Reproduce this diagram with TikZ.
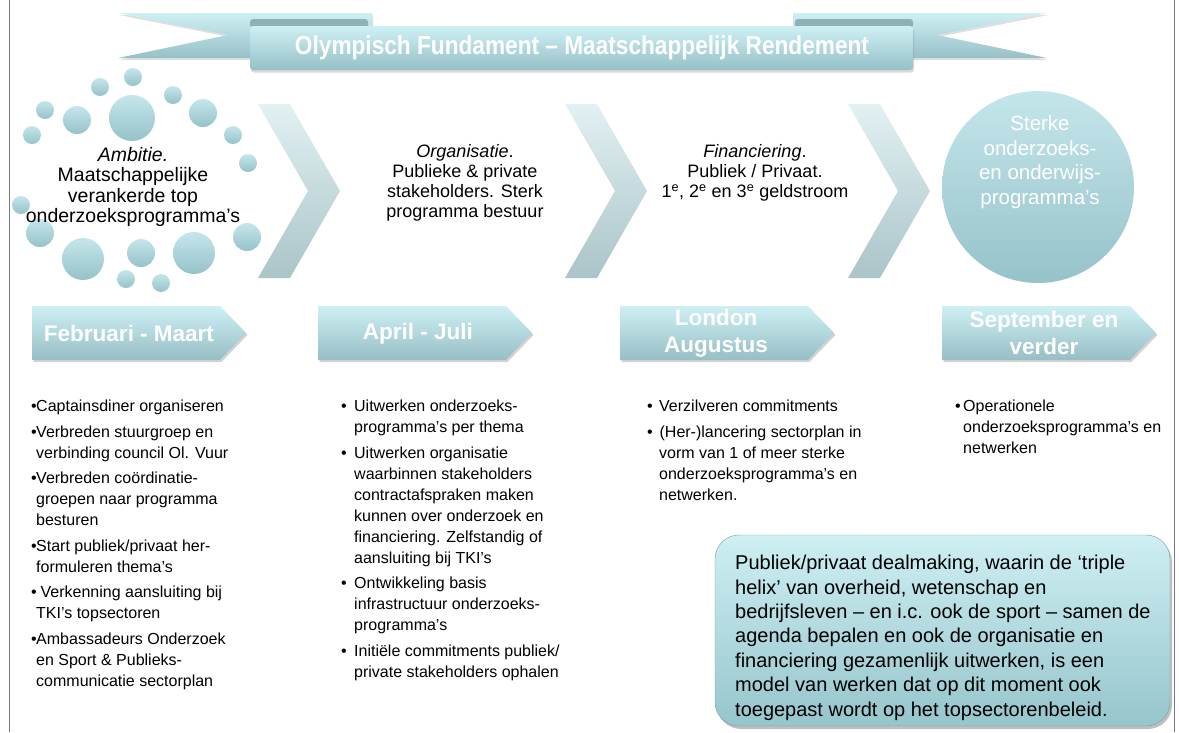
\documentclass[tikz,border=0pt]{standalone}
\usepackage{fontspec}
\setmainfont{Liberation Sans}
\usetikzlibrary{shadows}
\definecolor{rtop}{RGB}{206,240,244}
\definecolor{rbot}{RGB}{150,192,199}
\definecolor{rfold}{RGB}{140,178,184}
\definecolor{btop}{RGB}{196,230,235}
\definecolor{bbot}{RGB}{150,194,201}
\definecolor{ctop}{RGB}{226,241,243}
\definecolor{cbot}{RGB}{170,196,200}
\definecolor{ttop}{RGB}{206,240,244}
\definecolor{tbot}{RGB}{150,190,196}
\definecolor{xtop}{RGB}{206,239,243}
\definecolor{xbot}{RGB}{150,197,204}
\definecolor{frame}{RGB}{120,120,120}
\newcommand\lbul[1]{\makebox[#1][l]{•}}
\newcommand\lind[1]{\hspace*{#1}}
\tikzset{
  rib/.style={top color=rtop, bottom color=rbot},
  bub/.style={circle, draw=none, inner sep=0pt, top color=btop, bottom color=bbot},
  chev/.style={top color=ctop, bottom color=cbot},
  tagshape/.style={top color=ttop, bottom color=tbot,
    drop shadow={opacity=0.35, shadow xshift=1.5pt, shadow yshift=-2pt}},
  tagtext/.style={text=white, font=\fontsize{22.5}{27}\selectfont\bfseries, align=center, inner sep=0pt},
  midtext/.style={font=\fontsize{18}{20}\selectfont, align=center, inner sep=0pt},
  listtext/.style={font=\fontsize{16}{21}\selectfont, align=left, inner sep=0pt, anchor=north west},
}
\begin{document}
\begin{tikzpicture}[x=1pt,y=-1pt]
\useasboundingbox (0,0) rectangle (1179,732);
% frame lines
\draw[frame, line width=0.8pt] (9,0) -- (9,732);
\draw[frame, line width=0.8pt] (1174,0) -- (1174,732);

% ribbon
\path[rib, drop shadow={opacity=0.25, shadow xshift=1pt, shadow yshift=-2pt}]
  (118,13) -- (372,13) -- (372,58) -- (118,58) -- (228,35) -- cycle;
\path[rib, drop shadow={opacity=0.25, shadow xshift=1pt, shadow yshift=-2pt}]
  (1047,13) -- (793,13) -- (793,58) -- (1047,58) -- (937,35) -- cycle;
\path[fill=rfold, rounded corners=3pt] (250,19) rectangle (368,28);
\path[fill=rfold, rounded corners=3pt] (795,19) rectangle (913,28);
\path[rib, rounded corners=3pt, drop shadow={opacity=0.3, shadow xshift=1pt, shadow yshift=-2.5pt}]
  (250,26) rectangle (913,70);
\node[inner sep=0pt, text=white] (title) at (582,48)
  {\resizebox{574pt}{\height}{\fontsize{26}{26}\selectfont\bfseries Olympisch Fundament – Maatschappelijk Rendement}};

% bubbles
\foreach \x/\y/\r [count=\i] in {133/77/9, 100/87/9, 173/95/9, 45/110/9, 77/120/14,
  132/118/23, 203/113/14, 32/135/9, 233/135/9, 248/163/9, 21/205/9, 40/233/14,
  247/237/14, 83/259/21, 141/253/14, 194/253/21, 126/279/9, 161/283/9}
  \node[bub, minimum size={2*\r pt}] (b\i) at (\x,\y) {};
\node[midtext, font=\fontsize{19.5}{20.5}\selectfont] (amb) at (133,187)
  {\textit{Ambitie.}\\Maatschappelijke\\verankerde top\\onderzoeksprogramma’s};

% chevrons
\foreach \cx in {258,565,848}
  \path[chev] (\cx,104) -- ++(32,0) -- ++(50,87) -- ++(-50,87) -- ++(-32,0) -- ++(50,-87) -- cycle;

\node[midtext] (org) at (465,183)
  {\textit{Organisatie}.\\Publieke \& private\\stakeholders. Sterk\\programma bestuur};
\node[midtext] (fin) at (755,173)
  {\textit{Financiering}.\\Publiek / Privaat.\\1\textsuperscript{e}, 2\textsuperscript{e} en 3\textsuperscript{e} geldstroom};

% result circle
\node[circle, inner sep=0pt, minimum size=192pt, top color=btop, bottom color=bbot] (res) at (1038,187) {};
\node[midtext, text=white, font=\fontsize{20.5}{24.5}\selectfont] (restext) at (1040,162)
  {Sterke\\onderzoeks-\\en onderwijs-\\programma’s};

% tags
\path[tagshape] (32,306) -- (220,306) -- (246,333) -- (220,360) -- (32,360) -- cycle;
\path[tagshape] (318,306) -- (506,306) -- (532,333) -- (506,360) -- (318,360) -- cycle;
\path[tagshape] (620,306) -- (808,306) -- (834,333) -- (808,360) -- (620,360) -- cycle;
\path[tagshape] (942,306) -- (1130,306) -- (1156,333) -- (1130,360) -- (942,360) -- cycle;
\node[tagtext] (t1) at (129,333) {Februari - Maart};
\node[tagtext] (t2) at (418,334) {April - Juli};
\node[tagtext] (t3) at (716,333) {London\\Augustus};
\node[tagtext] (t4) at (1044,333) {September en\\verder};

% lists
\node[listtext] (l1) at (31,400) {%
\lbul{5pt}Captainsdiner organiseren\\[4.5pt]
\lbul{5pt}Verbreden stuurgroep en\\
\lind{5pt}verbinding council Ol. Vuur\\[4.5pt]
\lbul{5pt}Verbreden coördinatie-\\
\lind{5pt}groepen naar programma\\
\lind{5pt}besturen\\[4.5pt]
\lbul{5pt}Start publiek/privaat her-\\
\lind{5pt}formuleren thema’s\\[4.5pt]
\lbul{5pt} Verkenning aansluiting bij\\
\lind{5pt}TKI’s topsectoren\\[4.5pt]
\lbul{5pt}Ambassadeurs Onderzoek\\
\lind{5pt}en Sport \& Publieks-\\
\lind{5pt}communicatie sectorplan};

\node[listtext] (l2) at (341,400) {%
\lbul{13pt}Uitwerken onderzoeks-\\
\lind{13pt}programma’s per thema\\[4.5pt]
\lbul{13pt}Uitwerken organisatie\\
\lind{13pt}waarbinnen stakeholders\\
\lind{13pt}contractafspraken maken\\
\lind{13pt}kunnen over onderzoek en\\
\lind{13pt}financiering. Zelfstandig of\\
\lind{13pt}aansluiting bij TKI’s\\[4.5pt]
\lbul{13pt}Ontwikkeling basis\\
\lind{13pt}infrastructuur onderzoeks-\\
\lind{13pt}programma’s\\[4.5pt]
\lbul{13pt}Initiële commitments publiek/\\
\lind{13pt}private stakeholders ophalen};

\node[listtext] (l3) at (647,400) {%
\lbul{12pt}Verzilveren commitments\\[4.5pt]
\lbul{8pt} (Her-)lancering sectorplan in\\
\lind{12pt}vorm van 1 of meer sterke\\
\lind{12pt}onderzoeksprogramma’s en\\
\lind{12pt}netwerken.};

\node[listtext] (l4) at (955,400) {%
\lbul{8pt}Operationele\\
\lind{8pt}onderzoeksprogramma’s en\\
\lind{8pt}netwerken};

% dealmaking box
\node[rounded corners=24pt, minimum width=455pt, minimum height=191pt, inner sep=0pt,
  top color=xtop, bottom color=xbot, draw=rbot!80!black, line width=0.4pt,
  drop shadow={opacity=0.5, shadow xshift=2pt, shadow yshift=-3pt}] (dealbox) at (942.5,630.5) {};
\node[inner sep=0pt, anchor=north west, align=left, font=\fontsize{20}{24.4}\selectfont] (deal) at (735,555) {%
Publiek/privaat dealmaking, waarin de ‘triple\\
helix’ van overheid, wetenschap en\\
bedrijfsleven – en i.c. ook de sport – samen de\\
agenda bepalen en ook de organisatie en\\
financiering gezamenlijk uitwerken, is een\\
model van werken dat op dit moment ook\\
toegepast wordt op het topsectorenbeleid.};
\end{tikzpicture}
\end{document}
